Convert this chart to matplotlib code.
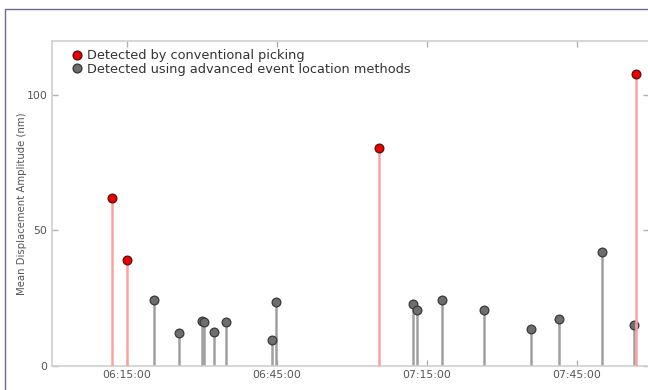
import matplotlib
matplotlib.use("Agg")
import matplotlib.pyplot as plt
import matplotlib.dates as mdates
import pandas as pd
from matplotlib.lines import Line2D
from matplotlib.patches import Rectangle

# events detected by conventional picking
red_times = ["06:12:00", "06:15:00", "07:05:30", "07:56:50"]
red_amp = [62, 39, 80.5, 107.6]

# events detected with advanced event location methods
grey_times = ["06:20:30", "06:25:24", "06:30:00", "06:30:30", "06:32:30", "06:34:54",
              "06:44:00", "06:44:54", "07:12:18", "07:13:00", "07:17:54", "07:26:18",
              "07:35:48", "07:41:24", "07:49:54", "07:56:18"]
grey_amp = [24.3, 12.3, 16.7, 16.1, 12.4, 16.2, 9.6, 23.5, 22.9, 20.6, 24.5, 20.8,
            13.7, 17.2, 42.0, 15.3]

labels = ["Detected by conventional picking",
          "Detected using advanced event location methods"]

day = "2020-01-01 "
rt = pd.to_datetime([day + t for t in red_times])
gt = pd.to_datetime([day + t for t in grey_times])

fig = plt.figure(figsize=(6.48, 3.9), dpi=100)
ax = fig.add_axes([0.0798, 0.0615, 0.9225, 0.8342])

# outer frame (cropped screenshot border)
fig.patches.append(Rectangle((5 / 648, -0.5), 2.0, 1.5 - 9 / 390, transform=fig.transFigure,
                             fill=False, edgecolor="#6a6a96", linewidth=1.0, zorder=0))

ax.vlines(gt, 0, grey_amp, color="#a0a0a0", linewidth=1.8, zorder=2)
ax.plot(gt, grey_amp, "o", color="#6e6e6e", markeredgecolor="#3a3a3a",
        markersize=6.3, markeredgewidth=0.9, zorder=3)
ax.vlines(rt, 0, red_amp, color="#ffa0a0", linewidth=1.8, zorder=4)
ax.plot(rt, red_amp, "o", color="#ee0000", markeredgecolor="#5a1010",
        markersize=6.3, markeredgewidth=0.9, zorder=5)

ax.set_xlim(pd.Timestamp(day + "06:00:00"), pd.Timestamp(day + "07:59:28"))
ax.set_ylim(0, 120)
ax.set_yticks([0, 50, 100])
ax.xaxis.set_major_locator(mdates.MinuteLocator(byminute=[15, 45]))
ax.xaxis.set_major_formatter(mdates.DateFormatter("%H:%M:%S"))

for s in ax.spines.values():
    s.set_color("#d0d0d0")
    s.set_linewidth(1.2)
ax.tick_params(direction="in", length=4, width=1, color="#b0b0b0",
               labelsize=7.8, labelcolor="#555555", top=True, right=True, pad=3)
ax.set_ylabel("Mean Displacement Amplitude (nm)", fontsize=7.3, color="#555555", labelpad=0)

handles = [Line2D([], [], marker="o", linestyle="", color="#ee0000", markeredgecolor="#5a1010",
                  markersize=6.3),
           Line2D([], [], marker="o", linestyle="", color="#6e6e6e", markeredgecolor="#3a3a3a",
                  markersize=6.3)]
ax.legend(handles, labels, loc="upper left", bbox_to_anchor=(0.023, 0.994), frameon=False,
          fontsize=9.3, handlelength=0.8, handletextpad=0.4, labelspacing=0.05,
          borderaxespad=0, borderpad=0.5, labelcolor="#333333")

fig.savefig("out.png", dpi=100)
